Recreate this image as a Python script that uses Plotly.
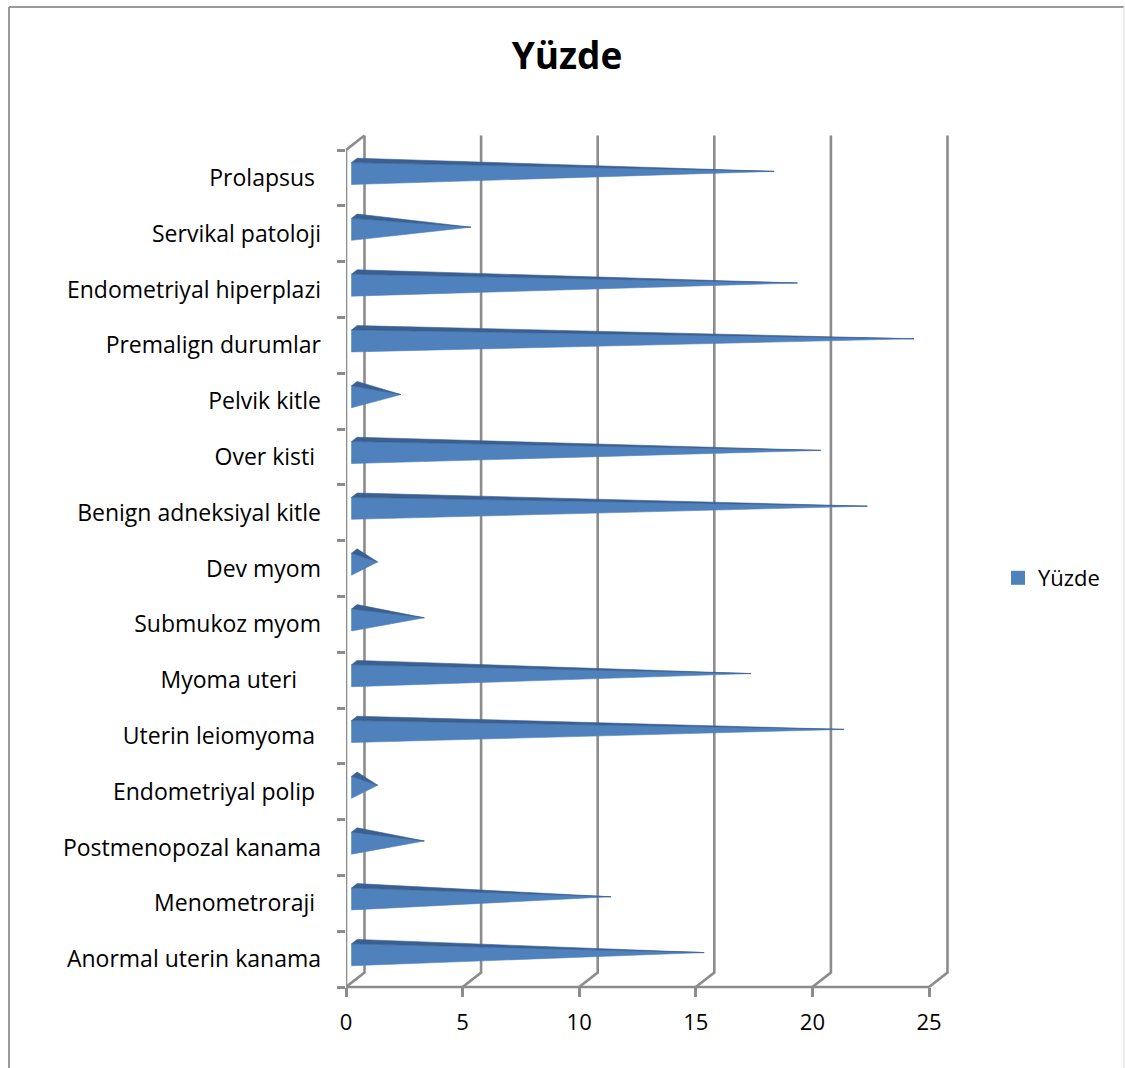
import plotly.graph_objects as go

# Categories listed from the bottom of the chart to the top
CATEGORIES = [
    "Anormal uterin kanama",
    "Menometroraji\u00a0",
    "Postmenopozal kanama",
    "Endometriyal polip\u00a0",
    "Uterin leiomyoma\u00a0",
    "Myoma uteri\u00a0\u00a0\u00a0\u00a0",
    "Submukoz myom",
    "Dev myom",
    "Benign adneksiyal kitle",
    "Over kisti\u00a0",
    "Pelvik kitle",
    "Premalign durumlar",
    "Endometriyal hiperplazi",
    "Servikal patoloji",
    "Prolapsus\u00a0",
]
VALUES = [15, 11, 3, 1, 21, 17, 3, 1, 22, 20, 2, 24, 19, 5, 18]
X_TICKS = [0, 5, 10, 15, 20, 25]
SERIES_NAME = "Yüzde"

# ---- layout geometry (pixels) ----
W, H = 1125, 1068
X0_PX = 346          # pixel column of value 0
PX_PER_X = 23.32     # pixels per value unit
FLOOR_PX = 987       # pixel row of the front floor edge (y = -0.5)
PX_PER_Y = 55.8      # pixels per category band
L, R, T, B = X0_PX, 962, 128, 1000

DEPTH_DX = 18.5 / PX_PER_X   # 3-D depth offset, in axis units
DEPTH_DY = 14.5 / PX_PER_Y

x_range = [0, (R - L) / PX_PER_X]
y_range = [-0.5 - (B - FLOOR_PX) / PX_PER_Y, -0.5 + (FLOOR_PX - T) / PX_PER_Y]
n_cat = len(CATEGORIES)
y_top = n_cat - 0.5

GRID = "#8c8c8c"
FRONT = "#4f81bd"
TOPFACE = "#3a6092"
FONT = "Open Sans"


def px_to_paper_x(px):
    return (px - L) / (R - L)


def px_to_paper_y(py):
    return (B - py) / (B - T)


fig = go.Figure()

# walls: back gridlines with their diagonal floor joints, front axis lines
gx, gy = [], []
x_max = X_TICKS[-1]
for t in X_TICKS:
    gx += [t, t + DEPTH_DX, t + DEPTH_DX, None]
    gy += [-0.5, -0.5 + DEPTH_DY, y_top + DEPTH_DY, None]
gx += [0, DEPTH_DX, None, 0, 0, None, 0, x_max, None]
gy += [y_top, y_top + DEPTH_DY, None, y_top, -0.5, None, -0.5, -0.5, None]
fig.add_trace(go.Scatter(x=gx, y=gy, mode="lines",
                         line=dict(color=GRID, width=2.6),
                         hoverinfo="skip", showlegend=False))

# horizontal pyramids: visible front face and darker upper face
HALF = 0.197
F_DEPTH, B_DEPTH, TIP_DEPTH = 0.3, 0.6, 0.45
fx, fy = DEPTH_DX * F_DEPTH, DEPTH_DY * F_DEPTH
bx, by = DEPTH_DX * B_DEPTH, DEPTH_DY * B_DEPTH
tx, ty = DEPTH_DX * TIP_DEPTH, DEPTH_DY * TIP_DEPTH

front_x, front_y, top_x, top_y = [], [], [], []
for i, v in enumerate(VALUES):
    front_x += [fx, fx, v + tx, fx, None]
    front_y += [i + fy + HALF, i + fy - HALF, i + ty, i + fy + HALF, None]
    top_x += [fx, bx, v + tx, fx, None]
    top_y += [i + fy + HALF, i + by + HALF, i + ty, i + fy + HALF, None]

fig.add_trace(go.Scatter(x=front_x, y=front_y, mode="lines", fill="toself",
                         fillcolor=FRONT, line=dict(color=FRONT, width=0.6),
                         hoverinfo="skip", showlegend=False))
fig.add_trace(go.Scatter(x=top_x, y=top_y, mode="lines", fill="toself",
                         fillcolor=TOPFACE, line=dict(color=TOPFACE, width=0.6),
                         hoverinfo="skip", showlegend=False))

# invisible points that populate the category axis
fig.add_trace(go.Scatter(x=VALUES, y=CATEGORIES, yaxis="y2", mode="markers",
                         marker=dict(opacity=0, size=1),
                         hoverinfo="skip", showlegend=False))

# legend swatch for the series
fig.add_trace(go.Scatter(x=[None], y=[None], mode="markers", name=SERIES_NAME,
                         marker=dict(symbol="square", size=14, color=FRONT)))

frame = dict(xref="paper", yref="paper", type="line", layer="above")
shapes = [
    dict(**frame, x0=px_to_paper_x(9), x1=px_to_paper_x(9),
         y0=px_to_paper_y(7), y1=px_to_paper_y(1080),
         line=dict(color="#9a9a9a", width=2)),
    dict(**frame, x0=px_to_paper_x(9), x1=px_to_paper_x(1124),
         y0=px_to_paper_y(7), y1=px_to_paper_y(7),
         line=dict(color="#9a9a9a", width=2)),
    dict(**frame, x0=px_to_paper_x(1124), x1=px_to_paper_x(1124),
         y0=px_to_paper_y(7), y1=px_to_paper_y(1080),
         line=dict(color="#e6e6e6", width=1.5)),
]

fig.update_layout(
    width=W, height=H,
    margin=dict(l=L, r=W - R, t=T, b=H - B, pad=0),
    paper_bgcolor="white", plot_bgcolor="white",
    font=dict(family=FONT, color="black"),
    title=dict(text="<b>Yüzde</b>", x=567 / W, xref="container",
               y=1 - 56 / H, yref="container", xanchor="center", yanchor="middle",
               font=dict(size=37, family=FONT, color="black")),
    xaxis=dict(range=x_range, anchor="free", position=px_to_paper_y(FLOOR_PX),
               tickmode="array", tickvals=X_TICKS, ticks="outside", ticklen=9,
               tickwidth=2.6, tickcolor=GRID, showline=False, showgrid=False,
               zeroline=False, tickfont=dict(size=22, family=FONT),
               ticklabelstandoff=7),
    yaxis=dict(range=y_range, visible=False, showgrid=False, zeroline=False),
    yaxis2=dict(type="category", overlaying="y", anchor="x", side="left",
                categoryorder="array", categoryarray=CATEGORIES, range=y_range,
                tickson="boundaries", ticks="outside", ticklen=8, tickwidth=2.6,
                tickcolor=GRID, showline=False, showgrid=False, zeroline=False,
                tickfont=dict(size=23, family=FONT), ticklabelstandoff=24),
    legend=dict(x=998 / W, y=1 - 578 / H, xref="container", yref="container",
                xanchor="left", yanchor="middle", font=dict(size=22, family=FONT),
                bgcolor="rgba(0,0,0,0)", itemwidth=30),
    shapes=shapes,
    showlegend=True,
)

fig.write_html("out.html")
